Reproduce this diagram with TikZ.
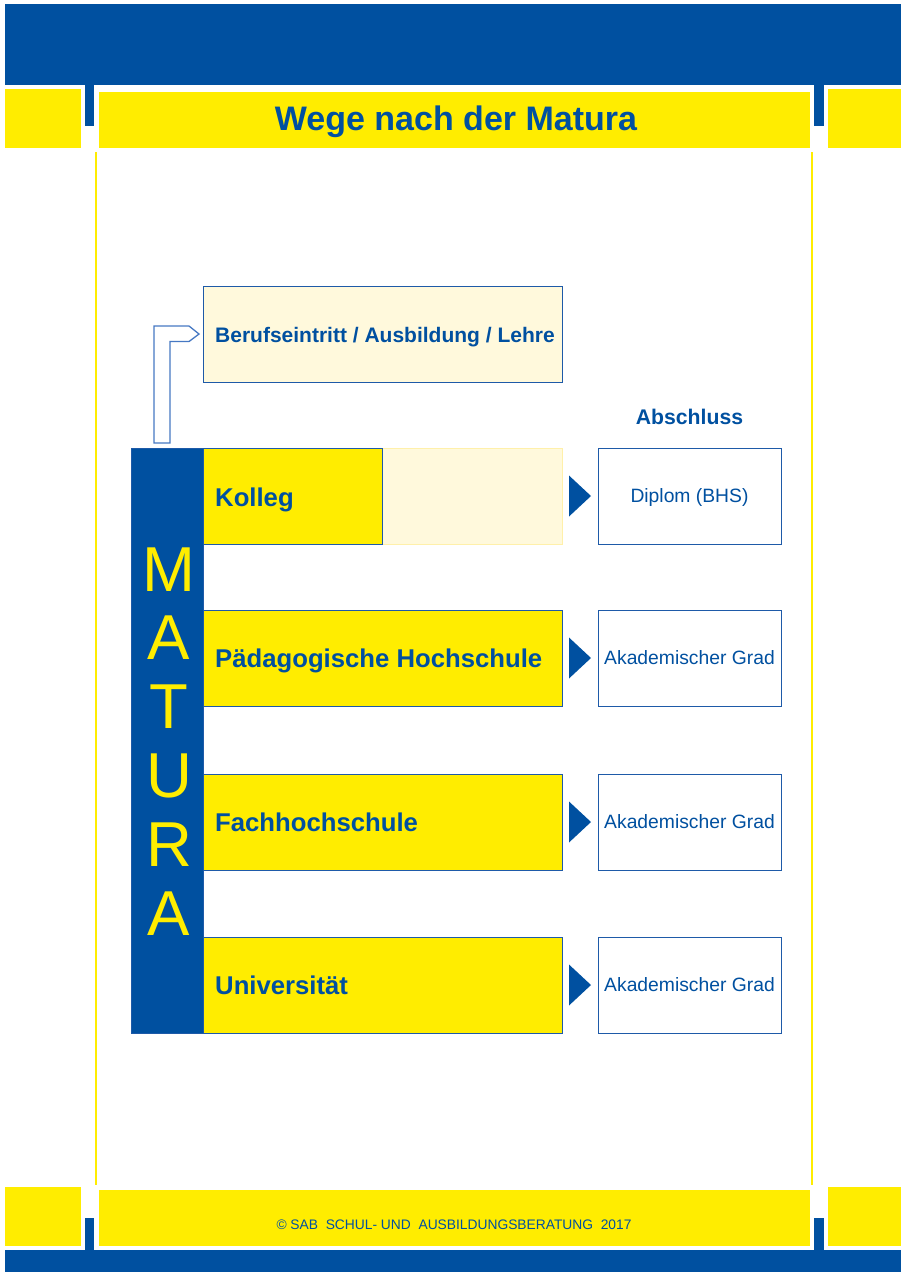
\documentclass[tikz,border=0pt]{standalone}
\usepackage{fontspec}
\setmainfont{Liberation Sans}
\usetikzlibrary{calc}
\definecolor{mblue}{RGB}{0,80,160}
\definecolor{bblue}{RGB}{30,90,168}
\definecolor{lblue}{RGB}{70,120,195}
\definecolor{myellow}{RGB}{255,237,0}
\definecolor{lyellow}{RGB}{255,249,220}
\definecolor{lyborder}{RGB}{255,240,170}
\begin{document}
\begin{tikzpicture}[x=1pt,y=-1pt,
  plain/.style={inner sep=0pt,outer sep=0pt,anchor=north west},
  band/.style={plain,fill=mblue},
  ybox/.style={plain,fill=myellow},
  pathbox/.style={plain,draw=bblue,line width=0.8pt,fill=myellow,minimum width=359pt,minimum height=96pt},
  endbox/.style={draw=bblue,line width=0.8pt,fill=white,inner sep=0pt,outer sep=0pt,minimum width=183pt,minimum height=96pt,
     text=mblue,font=\fontsize{19.3}{22}\selectfont,text height=13.8pt,text depth=0pt},
  lbl/.style={inner sep=0pt,anchor=base west,text=mblue,font=\fontsize{25.7}{30}\selectfont\bfseries},
  mat/.style={inner sep=0pt,anchor=base,text=myellow,font=\fontsize{63.5}{70}\selectfont},
  tri/.style={fill=mblue},
  bracket/.style={draw=lblue,line width=1.3pt,fill=white,line join=miter}
]
\useasboundingbox (0,0) rectangle (901,1272);
% ---------- frame ----------
\node[band,minimum width=896pt,minimum height=81pt] (topband) at (5,4) {};
\node[ybox,minimum width=76pt,minimum height=59pt] (tl) at (5,89) {};
\node[ybox,minimum width=73pt,minimum height=59pt] (tr) at (828,89) {};
\node[band,minimum width=9pt,minimum height=41pt] (tabtl) at (85,85) {};
\node[band,minimum width=10pt,minimum height=41pt] (tabtr) at (814,85) {};
\node[ybox,minimum width=711pt,minimum height=56pt] (titlebar) at (99,92) {};
\node[inner sep=0pt,anchor=base,text=mblue,font=\fontsize{34}{40}\selectfont\bfseries] (title) at (456,130) {Wege nach der Matura};
\fill[myellow] (95,152) rectangle (97,1185);
\fill[myellow] (811,152) rectangle (813,1185);
\node[ybox,minimum width=76pt,minimum height=59pt] (bl) at (5,1187) {};
\node[ybox,minimum width=73pt,minimum height=59pt] (br) at (828,1187) {};
\node[ybox,minimum width=711pt,minimum height=56pt] (footbar) at (99,1190) {};
\node[band,minimum width=9pt,minimum height=32pt] (tabbl) at (85,1218) {};
\node[band,minimum width=10pt,minimum height=32pt] (tabbr) at (814,1218) {};
\node[band,minimum width=896pt,minimum height=22pt] (botband) at (5,1250) {};
\node[inner sep=0pt,anchor=base,text=mblue,font=\fontsize{13.8}{16}\selectfont] (foot) at (454,1229)
  {\textcopyright\ SAB\ \ SCHUL- UND\ \ AUSBILDUNGSBERATUNG\ \ 2017};
% ---------- Matura bar ----------
\node[plain,fill=mblue,draw=bblue,line width=0.6pt,minimum width=72pt,minimum height=585pt] (bar) at (131,448) {};
\foreach \l [count=\i] in {M,A,T,U,R,A}
  \node[mat] (m\i) at (169,{522.2+68.8*\i}) {\l};
% ---------- Berufseintritt ----------
\node[plain,draw=bblue,line width=0.8pt,fill=lyellow,minimum width=359pt,minimum height=96pt] (beruf) at (203,286) {};
\node[lbl,font=\fontsize{21}{25}\selectfont\bfseries] (berufT) at (215,342) {Berufseintritt / Ausbildung / Lehre};
\coordinate (bL) at ($(bar.north west)+(23,-5)$);
\coordinate (bR) at ($(bar.north west)+(39,-5)$);
\coordinate (tip) at ($(beruf.west)+(-4,0)$);
\draw[bracket] (bL) -- ++(0,-117) -- ++(35,0) -- (tip) -- ++(-10,7.5) -- ++(-19,0) -- (bR) -- cycle;
% ---------- Abschluss ----------
\node[inner sep=0pt,anchor=base,text=mblue,font=\fontsize{21.2}{25}\selectfont\bfseries] (absch) at (689.5,424) {Abschluss};
% ---------- paths ----------
\node[plain,draw=lyborder,line width=0.6pt,fill=lyellow,minimum width=180pt,minimum height=96pt] (kx) at (382,448) {};
\node[pathbox,minimum width=179pt] (k) at (203,448) {};
\node[lbl] (kT) at (215,506) {Kolleg};
\node[pathbox] (p) at (203,610) {};
\node[lbl] (pT) at (215,667) {Pädagogische Hochschule};
\node[pathbox] (f) at (203,774) {};
\node[lbl] (fT) at (215,831) {Fachhochschule};
\node[pathbox] (u) at (203,937) {};
\node[lbl] (uT) at (215,994) {Universität};
% ---------- end boxes ----------
\node[endbox,anchor=north west] (kr) at (598,448) {Diplom (BHS)};
\node[endbox,anchor=north west] (pr) at (598,610) {Akademischer Grad};
\node[endbox,anchor=north west] (fr) at (598,774) {Akademischer Grad};
\node[endbox,anchor=north west] (ur) at (598,937) {Akademischer Grad};
% ---------- arrows ----------
\foreach \a/\b in {kx/kr,p/pr,f/fr,u/ur}
  \fill[tri] ($(\a.east)+(7,-20.5)$) -- ($(\b.west)+(-7,0)$) -- ($(\a.east)+(7,20.5)$) -- cycle;
\end{tikzpicture}
\end{document}
